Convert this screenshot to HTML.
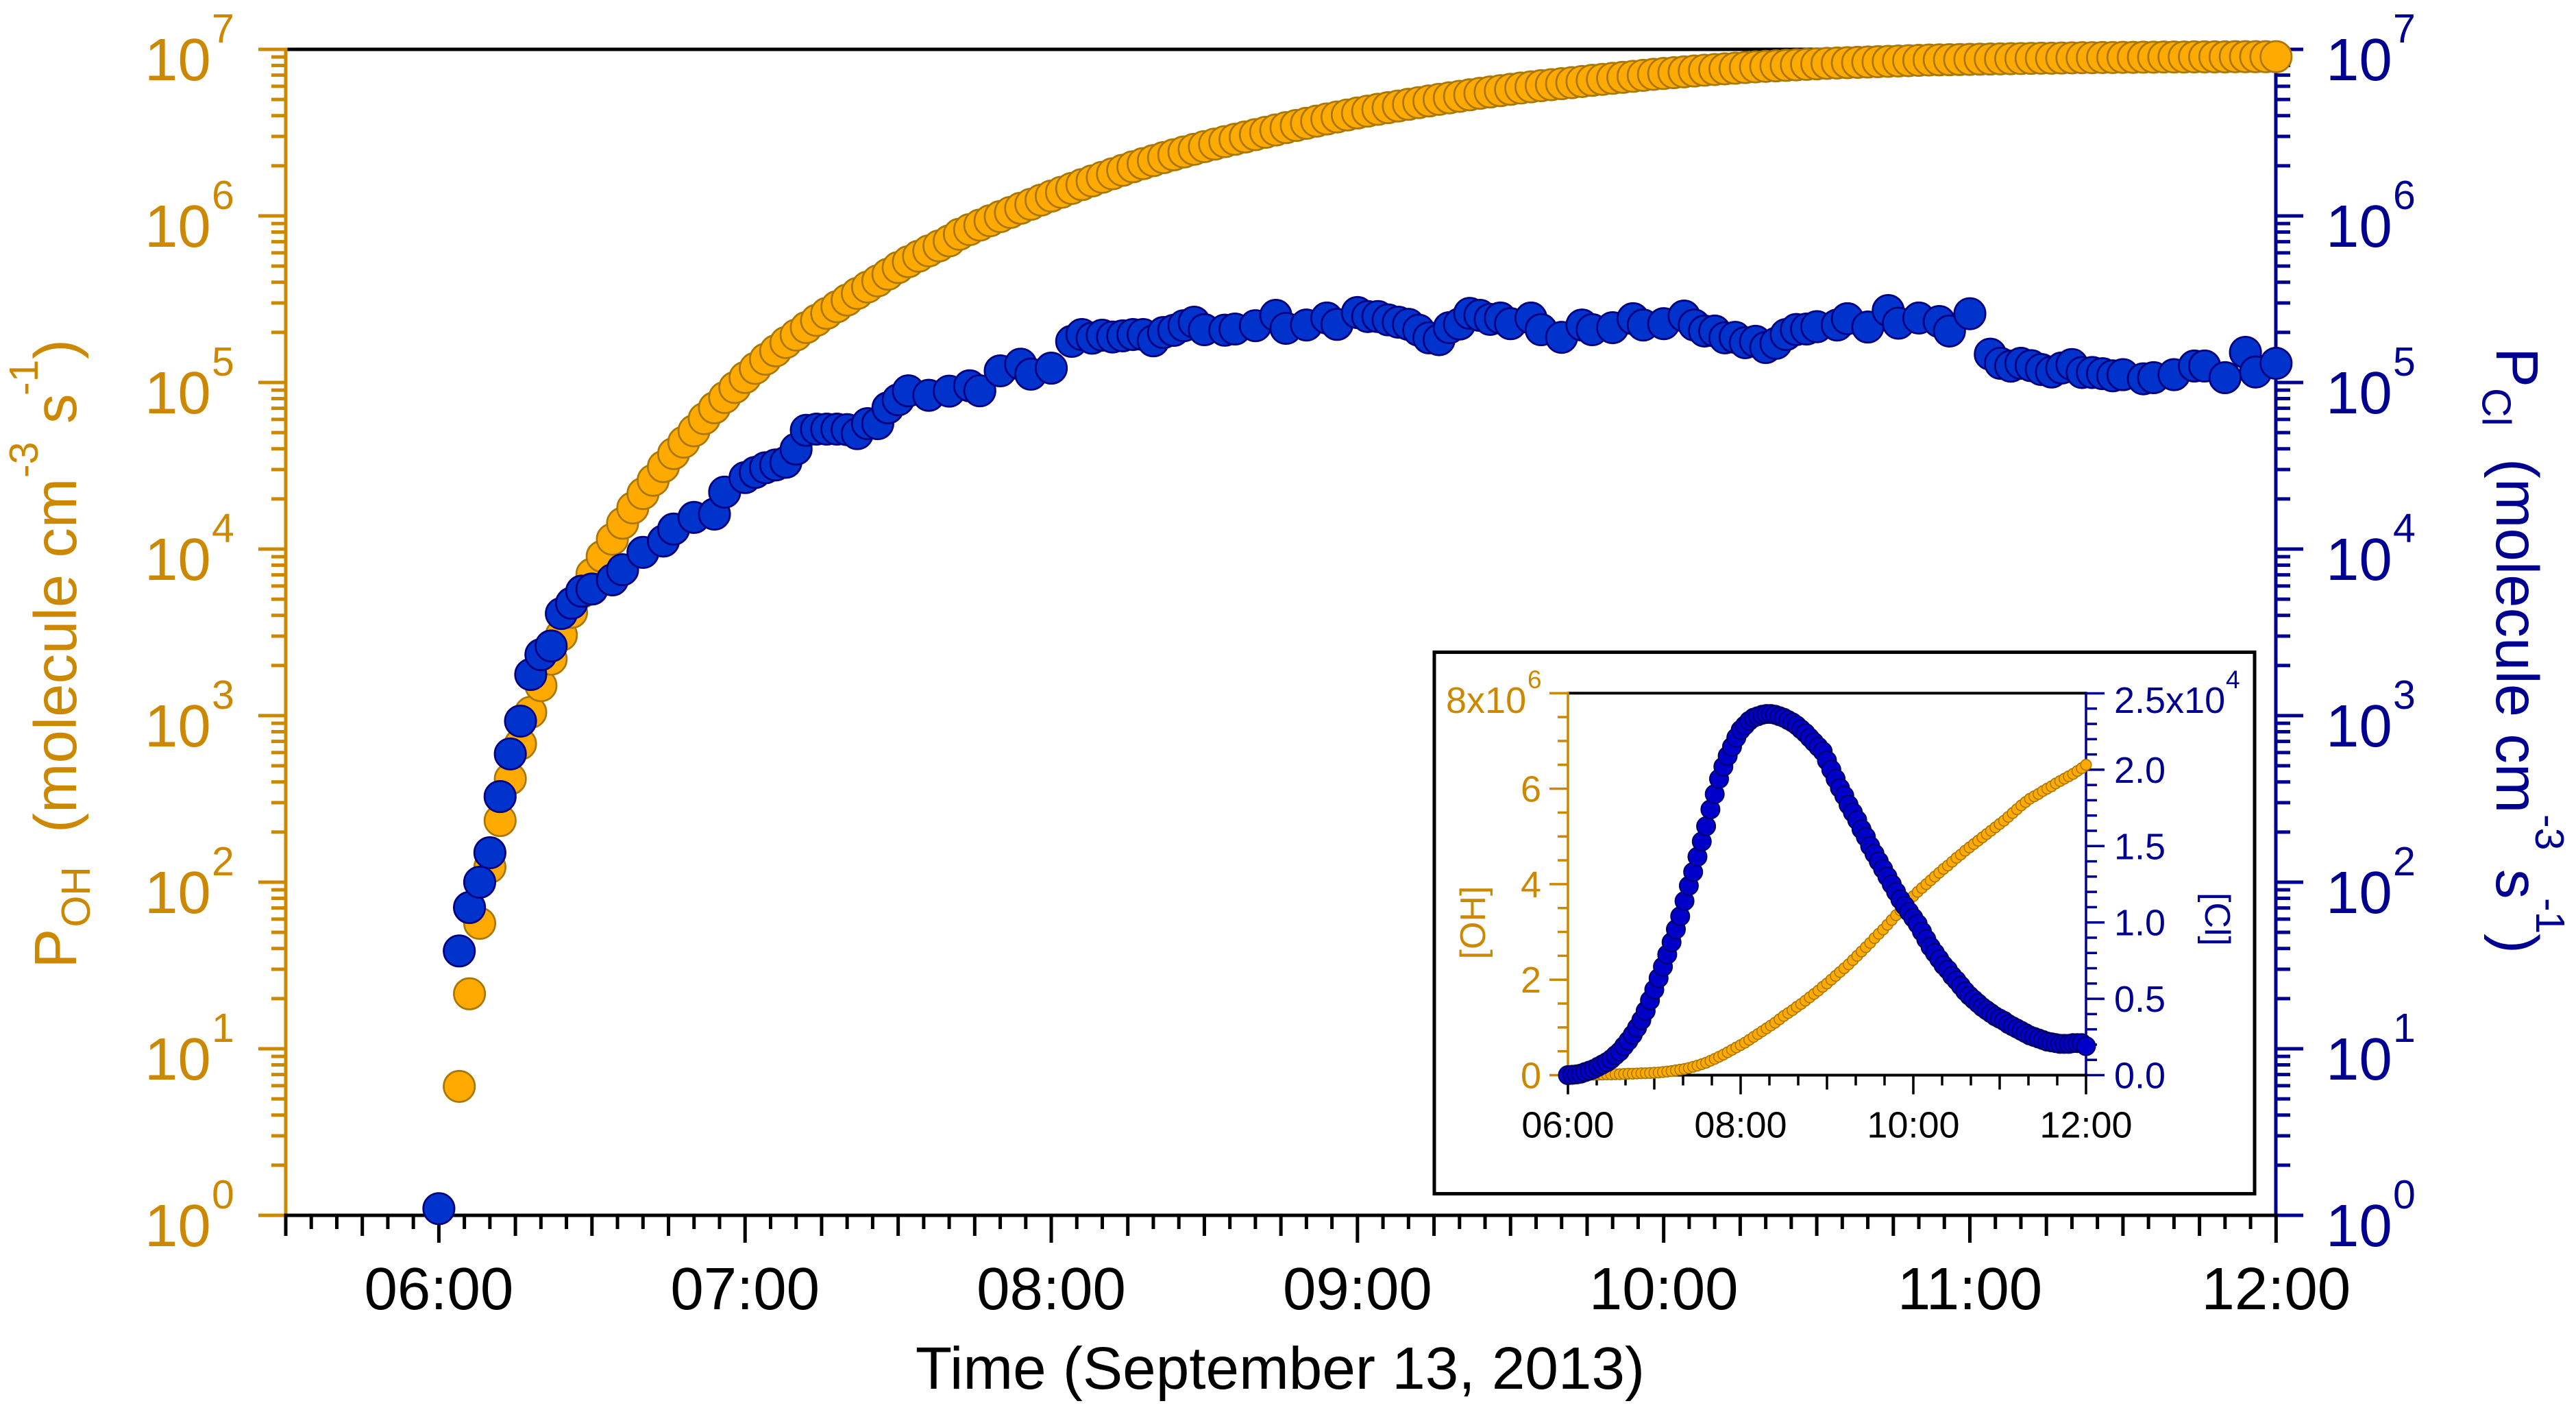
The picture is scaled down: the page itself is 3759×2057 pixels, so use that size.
<!DOCTYPE html>
<html lang="en">
<head>
<meta charset="utf-8">
<title>Radical production rates, September 13, 2013</title>
<style>
html,body{margin:0;padding:0;background:#fff;}
svg{display:block;}
text{font-family:"Liberation Sans",Arial,sans-serif;}
</style>
</head>
<body>
<svg id="chart" xmlns="http://www.w3.org/2000/svg" width="3759" height="2057" viewBox="0 0 3759 2057">
  <rect x="0" y="0" width="3759" height="2057" fill="#ffffff"/>
  <g id="main-axes"></g>
  <g id="main-marks"></g>

  <text x="1868" y="2026" font-size="87.3" text-anchor="middle" fill="#000000">Time (September 13, 2013)</text>

  <g fill="#cc8800">
    <text transform="translate(111 1412.6) rotate(-90)" font-size="87">P</text>
    <text transform="translate(131 1352.6) rotate(-90)" font-size="59">OH</text>
    <text transform="translate(111 1215) rotate(-90)" font-size="87">(molecule cm</text>
    <text transform="translate(55 697) rotate(-90)" font-size="59">-3</text>
    <text transform="translate(111 618) rotate(-90)" font-size="87">s</text>
    <text transform="translate(55 577) rotate(-90)" font-size="59">-1</text>
    <text transform="translate(111 524) rotate(-90)" font-size="87">)</text>
  </g>

  <g fill="#000090">
    <text transform="translate(3643 507) rotate(90)" font-size="87">P</text>
    <text transform="translate(3622.5 566) rotate(90)" font-size="59">Cl</text>
    <text transform="translate(3643 669) rotate(90)" font-size="87">(molecule cm</text>
    <text transform="translate(3700 1188) rotate(90)" font-size="59">-3</text>
    <text transform="translate(3643 1268) rotate(90)" font-size="87">s</text>
    <text transform="translate(3701 1310) rotate(90)" font-size="59">-1</text>
    <text transform="translate(3643 1362) rotate(90)" font-size="87">)</text>
  </g>

  <g id="inset">
    <rect x="2093" y="951.5" width="1197" height="790" fill="#ffffff" stroke="#000000" stroke-width="5"/>
    <g id="inset-axes"></g>
    <g id="inset-marks"></g>
    <text transform="translate(2167 1346) rotate(-90)" font-size="52" text-anchor="middle" fill="#cc8800">[OH]</text>
    <text transform="translate(3218 1341) rotate(90)" font-size="52" text-anchor="middle" fill="#000090">[Cl]</text>
  </g>
</svg>

<script>
/* ---------- main chart data (minutes after 06:00; values as log10 of rate) ---------- */
const hourLabels = ["06:00","07:00","08:00","09:00","10:00","11:00","12:00"];
const decadeExponents = [0,1,2,3,4,5,6,7];

const ohMinutes = [4,6,8,10,12,14,16,18,20,22,24,26,28,30,32,34,36,38,40,42,44,46,48,50,52,54,56,58,60,62,64,66,68,70,72,74,76,78,80,82,84,86,88,90,92,94,96,98,100,102,104,106,108,110,112,114,116,118,120,122,124,126,128,130,132,134,136,138,140,142,144,146,148,150,152,154,156,158,160,162,164,166,168,170,172,174,176,178,180,182,184,186,188,190,192,194,196,198,200,202,204,206,208,210,212,214,216,218,220,222,224,226,228,230,232,234,236,238,240,242,244,246,248,250,252,254,256,258,260,262,264,266,268,270,272,274,276,278,280,282,284,286,288,290,292,294,296,298,300,302,304,306,308,310,312,314,316,318,320,322,324,326,328,330,332,334,336,338,340,342,344,346,348,350,352,354,356,358,360];
const ohLog = [0.774,1.33,1.753,2.09,2.37,2.62,2.83,3.02,3.18,3.339,3.483,3.62,3.74,3.85,3.956,4.059,4.155,4.247,4.333,4.413,4.495,4.573,4.642,4.71,4.783,4.848,4.91,4.97,5.03,5.085,5.14,5.19,5.24,5.285,5.33,5.373,5.415,5.455,5.495,5.535,5.573,5.61,5.65,5.69,5.725,5.758,5.79,5.82,5.85,5.89,5.918,5.945,5.971,5.996,6.021,6.046,6.07,6.095,6.119,6.142,6.165,6.188,6.21,6.232,6.253,6.274,6.295,6.314,6.332,6.35,6.367,6.384,6.4,6.416,6.431,6.446,6.46,6.474,6.488,6.502,6.516,6.53,6.543,6.556,6.569,6.582,6.594,6.606,6.618,6.629,6.64,6.65,6.66,6.67,6.68,6.69,6.7,6.709,6.718,6.727,6.736,6.744,6.752,6.76,6.768,6.775,6.782,6.788,6.794,6.8,6.807,6.814,6.82,6.826,6.832,6.838,6.844,6.85,6.855,6.86,6.865,6.87,6.875,6.879,6.883,6.887,6.891,6.895,6.898,6.901,6.904,6.907,6.91,6.913,6.916,6.918,6.92,6.922,6.924,6.926,6.928,6.93,6.932,6.934,6.936,6.937,6.938,6.939,6.94,6.941,6.942,6.943,6.944,6.945,6.946,6.947,6.947,6.948,6.949,6.95,6.95,6.951,6.951,6.952,6.952,6.953,6.953,6.954,6.954,6.954,6.955,6.955,6.955,6.955,6.956,6.956,6.956,6.956,6.956];

const clMinutes = [0,4,6,8,10,12,14,16,18,20,22,24,26,28,30,34,36,40,44,46,50,54,56,60,62,64,66,68,70,72,74,76,78,80,82,84,86,88,90,92,96,100,104,106,110,114,116,120,124,126,128,130,132,134,136,138,140,142,144,146,148,150,154,156,160,164,166,170,174,176,180,182,184,186,188,190,192,194,196,198,200,202,204,206,208,210,214,216,220,224,226,230,234,236,240,244,246,248,250,252,254,256,258,260,262,264,266,268,270,274,276,280,284,286,290,294,296,300,304,306,308,310,312,314,316,318,320,322,324,326,328,330,334,336,340,344,346,350,354,356,360];
const clLog = [0.04,1.587,1.848,2.0,2.177,2.514,2.77,2.967,3.247,3.366,3.418,3.613,3.675,3.747,3.76,3.815,3.876,3.98,4.048,4.12,4.19,4.21,4.342,4.429,4.46,4.488,4.505,4.521,4.6,4.713,4.72,4.72,4.72,4.717,4.693,4.753,4.753,4.848,4.896,4.95,4.923,4.948,4.98,4.95,5.07,5.11,5.05,5.086,5.247,5.288,5.266,5.284,5.273,5.28,5.288,5.288,5.25,5.3,5.313,5.341,5.362,5.317,5.314,5.321,5.341,5.403,5.325,5.345,5.387,5.349,5.42,5.396,5.396,5.376,5.362,5.349,5.314,5.268,5.257,5.329,5.351,5.415,5.403,5.379,5.387,5.353,5.387,5.317,5.271,5.345,5.317,5.329,5.383,5.345,5.353,5.399,5.345,5.309,5.309,5.268,5.271,5.239,5.247,5.21,5.235,5.288,5.318,5.321,5.335,5.345,5.383,5.333,5.432,5.356,5.387,5.366,5.309,5.413,5.17,5.115,5.098,5.115,5.101,5.078,5.063,5.087,5.108,5.06,5.06,5.053,5.04,5.047,5.022,5.029,5.047,5.099,5.099,5.029,5.181,5.063,5.115];

/* ---------- inset data (minutes after 06:00; OH in 1e6, Cl in 1e4) ---------- */
const insetHourLabels = ["06:00","08:00","10:00","12:00"];
const insetLeftLabels = ["0","2","4","6"];
const insetRightLabels = ["0.0","0.5","1.0","1.5","2.0"];
const insetMinutes = [0,3,6,9,12,15,18,21,24,27,30,33,36,39,42,45,48,51,54,57,60,63,66,69,72,75,78,81,84,87,90,93,96,99,102,105,108,111,114,117,120,123,126,129,132,135,138,141,144,147,150,153,156,159,162,165,168,171,174,177,180,183,186,189,192,195,198,201,204,207,210,213,216,219,222,225,228,231,234,237,240,243,246,249,252,255,258,261,264,267,270,273,276,279,282,285,288,291,294,297,300,303,306,309,312,315,318,321,324,327,330,333,336,339,342,345,348,351,354,357,360];
const insetOh = [0,0,0,0,0.005,0.005,0.01,0.01,0.012,0.015,0.015,0.02,0.02,0.025,0.03,0.03,0.035,0.04,0.04,0.045,0.05,0.055,0.065,0.075,0.085,0.1,0.115,0.13,0.15,0.175,0.2,0.23,0.26,0.3,0.34,0.385,0.43,0.48,0.53,0.58,0.63,0.68,0.74,0.8,0.86,0.92,0.98,1.04,1.1,1.17,1.24,1.3,1.36,1.43,1.49,1.56,1.63,1.7,1.77,1.85,1.92,2.0,2.08,2.16,2.24,2.32,2.41,2.5,2.59,2.68,2.77,2.87,2.96,3.05,3.15,3.25,3.35,3.45,3.55,3.65,3.75,3.84,3.92,4.0,4.08,4.16,4.24,4.32,4.39,4.47,4.55,4.62,4.7,4.77,4.84,4.91,4.98,5.05,5.12,5.19,5.26,5.33,5.41,5.49,5.57,5.65,5.72,5.79,5.84,5.89,5.95,6.0,6.05,6.11,6.16,6.21,6.26,6.31,6.37,6.43,6.5];
const insetCl = [0,0.002,0.005,0.01,0.02,0.03,0.04,0.055,0.07,0.085,0.105,0.13,0.155,0.19,0.225,0.265,0.31,0.36,0.42,0.49,0.56,0.635,0.71,0.79,0.87,0.955,1.04,1.14,1.24,1.33,1.43,1.53,1.63,1.74,1.84,1.94,2.02,2.09,2.15,2.21,2.26,2.29,2.32,2.34,2.35,2.36,2.365,2.365,2.36,2.35,2.34,2.325,2.31,2.29,2.265,2.24,2.21,2.18,2.15,2.12,2.06,2.0,1.94,1.88,1.83,1.77,1.72,1.67,1.61,1.56,1.5,1.45,1.4,1.35,1.3,1.25,1.2,1.15,1.11,1.07,1.03,0.99,0.94,0.89,0.84,0.8,0.76,0.72,0.69,0.65,0.62,0.585,0.55,0.52,0.495,0.47,0.445,0.425,0.405,0.385,0.37,0.355,0.335,0.32,0.305,0.29,0.275,0.26,0.25,0.24,0.23,0.22,0.215,0.21,0.205,0.205,0.205,0.21,0.21,0.21,0.19];

/* ---------- scales ---------- */
const SVGNS = "http://www.w3.org/2000/svg";
const ORANGE = "#cc8800", NAVY = "#000090", BLACK = "#000000";
const xMain = function(min){ return 640.4 + min * 7.447; };
const yMain = function(lg){ return 1773 - lg * 243; };
const xInset = function(min){ return 2288 + min * 2.1; };
const yInsetL = function(v){ return 1568.5 - v * 69.65; };
const yInsetR = function(v){ return 1568.5 - v * 222.8; };

function make(tag, parent, attrs, txt){
  const el = document.createElementNS(SVGNS, tag);
  for (const k in attrs) el.setAttribute(k, attrs[k]);
  if (txt !== undefined) el.textContent = txt;
  parent.appendChild(el);
  return el;
}
function rule(parent, x1, y1, x2, y2, col, w){
  return make("line", parent, {x1:x1, y1:y1, x2:x2, y2:y2, stroke:col, "stroke-width":w});
}

/* ---------- main axes ---------- */
const mainAxes = document.getElementById("main-axes");
const L = 417, R = 3321, B = yMain(0), T = yMain(7);

let ln = rule(mainAxes, L, T, R, T, BLACK, 5);



/* x ticks each 5 min from 05:30 to 12:00 */
for (let m = -30; m <= 360; m += 5) {
  const len = (m % 60 === 0) ? 40 : (m % 15 === 0 ? 30 : 20);
  const t = rule(mainAxes, xMain(m), B, xMain(m), B + len, BLACK, 5);
  
  
}

/* log ticks on both sides */
decadeExponents.forEach(function(e){
  const yy = yMain(e);
  const lt = rule(mainAxes, L - 40, yy, L, yy, ORANGE, 5);
  
  
  const rt = rule(mainAxes, R, yy, R + 40, yy, NAVY, 5);
  
  

  const leftLabel = make("text", mainAxes, {x:211, y:yy + 45, "font-size":87, fill:ORANGE}, "10");
  
  
  const leftSup = make("text", mainAxes, {x:309, y:yy - 10, "font-size":59, fill:ORANGE}, String(e));
  
  
  const rightLabel = make("text", mainAxes, {x:3394, y:yy + 45, "font-size":87, fill:NAVY}, "10");
  
  
  const rightSup = make("text", mainAxes, {x:3492, y:yy - 10, "font-size":59, fill:NAVY}, String(e));
  
  

  if (e < 7) {
    for (let k = 2; k <= 9; k++) {
      const ym = yMain(e + Math.log10(k));
      const lm = rule(mainAxes, L - 21, ym, L, ym, ORANGE, 5);
      
      
      const rm = rule(mainAxes, R, ym, R + 21, ym, NAVY, 5);
      
      
    }
  }
});

ln = rule(mainAxes, L, T - 2.5, L, B, ORANGE, 5);


ln = rule(mainAxes, R, T + 2, R, B, NAVY, 5);


ln = rule(mainAxes, L - 2.5, B, R + 2.5, B, BLACK, 5);



hourLabels.forEach(function(lab, i){
  const tx = make("text", mainAxes, {x:xMain(i * 60), y:1910, "font-size":87, "text-anchor":"middle", fill:BLACK}, lab);
  
  
});

/* ---------- main series ---------- */
const mainMarks = document.getElementById("main-marks");
ohLog.forEach(function(v, i){
  const c = make("circle", mainMarks, {cx:xMain(ohMinutes[i]), cy:yMain(v), r:22.7, fill:"#ffaa00", stroke:"#aa7700", "stroke-width":2.7});
  
  
});
clLog.forEach(function(v, i){
  const c = make("circle", mainMarks, {cx:xMain(clMinutes[i]), cy:yMain(v), r:22.7, fill:"#0033cc", stroke:"#000080", "stroke-width":2.7});
  
  
});

/* ---------- inset axes ---------- */
const insetAxes = document.getElementById("inset-axes");
const iL = xInset(0), iR = xInset(360), iB = yInsetL(0), iT = yInsetL(8);

ln = rule(insetAxes, iL, iT, iR, iT, BLACK, 4);



for (let m = 0; m <= 360; m += 20) {
  const len = (m % 120 === 0) ? 28 : (m % 60 === 0 ? 21 : 15);
  const t = rule(insetAxes, xInset(m), iB, xInset(m), iB + len, BLACK, 3.5);
  
  
}
for (let v = 0; v <= 8; v += 0.5) {
  const major = (v % 2 === 0);
  const t = rule(insetAxes, iL - (major ? 27 : 15), yInsetL(v), iL, yInsetL(v), ORANGE, 3.5);
  
  
}
for (let k = 0; k <= 25; k++) {
  const major = (k % 5 === 0);
  const t = rule(insetAxes, iR, yInsetR(k / 10), iR + (major ? 27 : 16), yInsetR(k / 10), NAVY, 3.5);
  
  
}

ln = rule(insetAxes, iL, iT - 2, iL, iB, ORANGE, 3.5);


ln = rule(insetAxes, iR, iT - 2, iR, iB, NAVY, 3.5);


ln = rule(insetAxes, iL - 2, iB, iR + 2, iB, BLACK, 4);



insetHourLabels.forEach(function(lab, i){
  const tx = make("text", insetAxes, {x:xInset(i * 120), y:1659.5, "font-size":54, "text-anchor":"middle", fill:BLACK}, lab);
  
  
});
insetLeftLabels.forEach(function(lab, i){
  const tx = make("text", insetAxes, {x:2249, y:yInsetL(i * 2) + 19, "font-size":54, "text-anchor":"end", fill:ORANGE}, lab);
  
  
});
insetRightLabels.forEach(function(lab, i){
  const tx = make("text", insetAxes, {x:3085, y:yInsetR(i * 0.5) + 19, "font-size":54, fill:NAVY}, lab);
  
  
});
let topLab = make("text", insetAxes, {x:2110, y:1040, "font-size":54, fill:ORANGE}, "8x10");


topLab = make("text", insetAxes, {x:2229, y:1004, "font-size":37, fill:ORANGE}, "6");


topLab = make("text", insetAxes, {x:3085, y:1040, "font-size":54, fill:NAVY}, "2.5x10");


topLab = make("text", insetAxes, {x:3248, y:1004, "font-size":37, fill:NAVY}, "4");



/* ---------- inset series ---------- */
const insetMarks = document.getElementById("inset-marks");
insetOh.forEach(function(v, i){
  const c = make("circle", insetMarks, {cx:xInset(insetMinutes[i]), cy:yInsetL(v), r:7.8, fill:"#ffaa00", stroke:"#aa7700", "stroke-width":1.6});
  
  
});
insetCl.forEach(function(v, i){
  const c = make("circle", insetMarks, {cx:xInset(insetMinutes[i]), cy:yInsetR(v), r:13.5, fill:"#0000c8", stroke:"#000066", "stroke-width":2});
  
  
});
</script>
</body>
</html>
